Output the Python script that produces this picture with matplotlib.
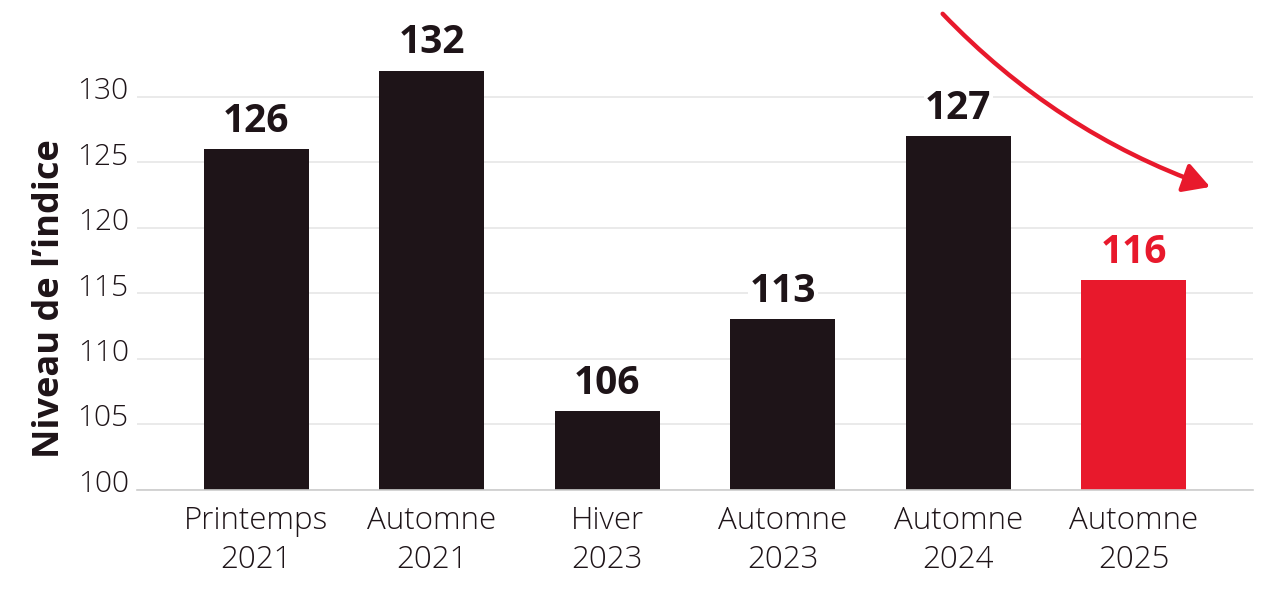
import matplotlib
matplotlib.use("Agg")
import matplotlib.pyplot as plt
import matplotlib.transforms as mtransforms
from matplotlib.patches import FancyArrowPatch
import numpy as np

plt.rcParams['font.family'] = ['Open Sans', 'DejaVu Sans']

# données
categories = ["Printemps\n2021", "Automne\n2021", "Hiver\n2023",
              "Automne\n2023", "Automne\n2024", "Automne\n2025"]
valeurs = [126, 132, 106, 113, 127, 116]
ticks_y = [100, 105, 110, 115, 120, 125, 130]

noir = '#1e1418'
rouge = '#e8192c'
couleurs = [noir] * 5 + [rouge]

fig = plt.figure(figsize=(12.8, 5.9), dpi=100)
ax = fig.add_axes([0.107, 0.17, 0.872, 0.83])

x = np.arange(len(categories))
ax.bar(x, np.array(valeurs) - 100, bottom=100, width=0.6, color=couleurs, zorder=2)

# étiquettes de valeur
for xi, v, c in zip(x, valeurs, couleurs):
    ax.annotate(str(v), (xi, v), xytext=(0, 6), textcoords='offset points',
                ha='center', va='bottom', fontsize=28, fontweight='bold', color=c,
                bbox=dict(facecolor='white', edgecolor='none', pad=1), zorder=3)

ax.set_xlim(-0.68, 5.68)
ax.set_ylim(100, 137.4)
ax.set_yticks(ticks_y)
ax.set_xticks(x)
ax.set_xticklabels(categories, fontsize=22.5, fontweight='light', color=noir,
                   linespacing=1.3)
ax.tick_params(axis='both', length=0)
ax.tick_params(axis='x', pad=11)
ax.tick_params(axis='y', pad=6)
for lab in ax.get_yticklabels():
    lab.set_fontsize(21.5)
    lab.set_fontweight('light')
    lab.set_color(noir)
    lab.set_transform(lab.get_transform() +
                      mtransforms.ScaledTranslation(0, 9 / 100, fig.dpi_scale_trans))

ax.yaxis.grid(True, color='#e6e6e6', linewidth=1.2, zorder=0)
ax.set_axisbelow(True)
for s in ['top', 'right', 'left']:
    ax.spines[s].set_visible(False)
ax.spines['bottom'].set_color('#cccccc')
ax.spines['bottom'].set_linewidth(1.2)

ax.set_ylabel("Niveau de l\u2019indice", fontsize=26, fontweight='bold', color=noir)
ax.yaxis.set_label_coords(-0.062, 0.39)

# flèche de tendance
fleche = FancyArrowPatch((3.90, 136.5), (5.45, 123.05),
                         connectionstyle="arc3,rad=0.12",
                         arrowstyle="-|>,head_length=16,head_width=9",
                         color=rouge, linewidth=3.2, clip_on=False, zorder=4)
ax.add_patch(fleche)

fig.savefig("out.png", dpi=100, facecolor='white')
